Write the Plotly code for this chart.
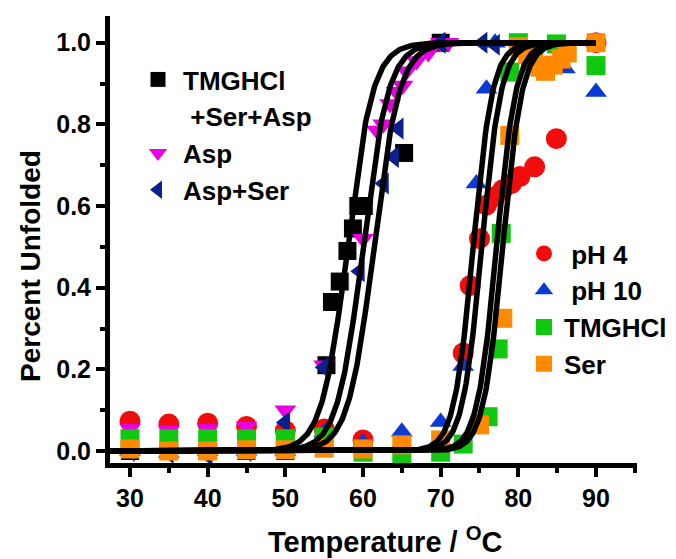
import numpy as np
import plotly.graph_objects as go

# ---------------- data ----------------
black_T = [30, 35, 40, 45, 50, 55.3, 56.0, 57.0, 58.0, 58.7, 59.4, 60.1, 65.3, 70]
black_Y = [0.0, 0.0, 0.0, 0.0, 0.0, 0.21, 0.365, 0.415, 0.49, 0.545, 0.60, 0.60, 0.73, 1.0]

asp_T = [30, 35, 40, 45, 50, 55, 60, 61.8, 62.6, 63.5, 64.3, 65.1, 65.6, 66.9, 68.4, 70, 71]
asp_Y = [0.055, 0.05, 0.055, 0.06, 0.10, 0.21, 0.52, 0.785, 0.80, 0.85, 0.88, 0.895, 0.93, 0.955, 0.975, 1.0, 1.0]

aspser_T = [30, 35, 40, 45, 50, 55, 59.6, 62.7, 64.0, 64.6, 70, 75.4, 77]
aspser_Y = [0.0, -0.005, -0.01, 0.0, 0.07, 0.205, 0.44, 0.655, 0.72, 0.79, 1.0, 1.0, 0.995]

ph4_T = [30, 35, 40, 45, 50, 55, 60, 72.9, 73.8, 75.0, 75.9, 77.0, 78.0, 79.1, 80.2, 82.1, 84.9, 90]
ph4_Y = [0.073, 0.066, 0.068, 0.06, 0.05, 0.054, 0.027, 0.24, 0.405, 0.52, 0.602, 0.623, 0.64, 0.655, 0.672, 0.696, 0.765, 1.0]

ph10_T = [30, 35, 40, 45, 50, 55, 60, 65, 70, 72.9, 74.6, 75.9, 77.0, 86.0, 90]
ph10_Y = [0.0, -0.005, 0.0, 0.0, 0.0, 0.045, 0.02, 0.047, 0.071, 0.208, 0.655, 0.887, 1.0, 0.937, 0.879]

tmg_T = [30, 35, 40, 45, 50, 55, 60, 65, 70, 72.9, 76.1, 77.4, 77.8, 78.9, 80, 84.9, 90]
tmg_Y = [0.03, 0.03, 0.03, 0.03, 0.03, 0.034, -0.003, -0.01, -0.003, 0.017, 0.084, 0.25, 0.533, 0.928, 1.0, 0.997, 0.944]

ser_T = [30, 35, 40, 45, 50, 55, 60, 65, 70, 75.0, 78.0, 78.9, 80.0, 81.2, 82.0, 82.8, 83.5, 84.5, 85.5, 86.3, 90]
ser_Y = [0.005, 0.0, 0.0, 0.003, 0.003, 0.007, 0.005, 0.015, 0.027, 0.064, 0.325, 0.773, 0.99, 0.97, 0.955, 0.94, 0.93, 0.945, 0.96, 0.975, 1.0]

# Boltzmann fit lines (midpoint Tm and width)
fit_Tm = [58.0, 60.0, 61.4, 74.2, 75.3, 77.2, 78.0]
fit_w = [1.65, 1.65, 1.65, 1.25, 1.25, 1.25, 1.25]
fit_range = [27.4, 90.0]

x_ticks = [30, 40, 50, 60, 70, 80, 90]
y_ticks = [0.0, 0.2, 0.4, 0.6, 0.8, 1.0]

FONT = "Liberation Sans"

fig = go.Figure()

def add_pts(T, Y, name, symbol, color, size, legend, line=None):
    fig.add_trace(go.Scatter(
        x=T, y=Y, mode="markers", name=name, legend=legend,
        marker=dict(symbol=symbol, color=color, size=size,
                    line=line or dict(width=0)),
        cliponaxis=False))

add_pts(black_T, black_Y, "TMGHCl", "square", "#000000", 19, "legend",
        line=dict(width=1, color="white"))
# continuation line of the first legend label
fig.add_trace(go.Scatter(x=[None], y=[None], mode="markers", name=" +Ser+Asp",
                         legend="legend", marker=dict(color="rgba(0,0,0,0)", size=1)))
add_pts(ph4_T, ph4_Y, " pH 4", "circle", "#F20D0D", 21, "legend2")
add_pts(ph10_T, ph10_Y, " pH 10", "triangle-up", "#0A3AD6", 19, "legend2")
add_pts(asp_T, asp_Y, "Asp", "triangle-down", "#E800E0", 19, "legend")
add_pts(aspser_T, aspser_Y, "Asp+Ser", "triangle-left", "#0B1F8F", 19, "legend")
add_pts(tmg_T, tmg_Y, "TMGHCl", "square", "#10C810", 19, "legend2")
add_pts(ser_T, ser_Y, "Ser", "square", "#FF8A00", 19, "legend2")

xs = np.linspace(fit_range[0], fit_range[1], 600)
for tm, w in zip(fit_Tm, fit_w):
    fig.add_trace(go.Scatter(x=xs, y=1.0 / (1.0 + np.exp((tm - xs) / w)),
                             mode="lines", line=dict(color="black", width=5.5),
                             showlegend=False, hoverinfo="skip"))

axis_common = dict(showline=True, linewidth=5, linecolor="black", ticks="outside",
                   tickwidth=4, ticklen=9, tickcolor="black", showgrid=False,
                   zeroline=False,
                   tickfont=dict(family=FONT, size=25, color="black", weight="bold"))

title_font = dict(family=FONT, size=29, color="black", weight="bold")

fig.update_layout(
    width=676, height=559,
    margin=dict(l=110, r=39, t=16, b=96, autoexpand=False),
    paper_bgcolor="white", plot_bgcolor="white",
    xaxis=dict(range=[27.425, 95.28], tickvals=x_ticks,
               minor=dict(dtick=5, tick0=0, ticks="outside", ticklen=5, tickwidth=4,
                          tickcolor="black"),
               **axis_common),
    yaxis=dict(range=[-0.0294, 1.0654], tickvals=y_ticks, tickformat=".1f",
               minor=dict(dtick=0.1, tick0=0, ticks="outside", ticklen=5, tickwidth=4,
                          tickcolor="black"),
               **axis_common),
    annotations=[
        dict(text="Temperature / <sup>O</sup>C", xref="paper", yref="paper",
             x=(385 - 110) / 527, y=1 - (540 - 16) / 447, xanchor="center",
             yanchor="middle", showarrow=False, font=title_font),
        dict(text="Percent Unfolded", xref="paper", yref="paper",
             x=(30 - 110) / 527, y=1 - (266 - 16) / 447, xanchor="center",
             yanchor="middle", textangle=-90, showarrow=False,
             font=dict(family=FONT, size=28, color="black", weight="bold")),
    ],
    legend=dict(x=(133 - 110) / 527, y=1 - (56 - 16) / 447, xanchor="left", yanchor="top",
                bgcolor="rgba(0,0,0,0)", borderwidth=0, itemwidth=40,
                font=dict(family=FONT, size=26, color="black", weight="bold")),
    legend2=dict(x=(524 - 110) / 527, y=1 - (230 - 16) / 447, xanchor="left", yanchor="top",
                 bgcolor="rgba(0,0,0,0)", borderwidth=0, itemwidth=30,
                 font=dict(family=FONT, size=26, color="black", weight="bold")),
)

fig.write_html("out.html")
